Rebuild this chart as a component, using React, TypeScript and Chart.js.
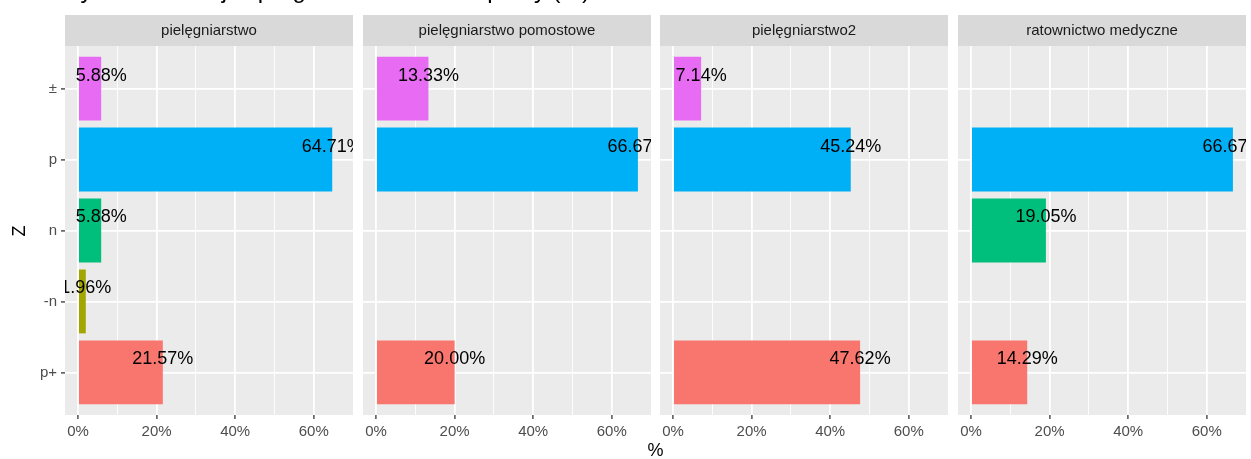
import React, { useEffect, useRef } from "react";
import { Chart, registerables } from "chart.js";

Chart.register(...registerables);

// ---- data ----
const title = "Wykres korelacji z programem studiów i pracy (%)";
const xAxisTitle = "%";
const yAxisTitle = "Z";
// category index = position on the y axis (0 = bottom)
const categories = ["p+", "-n", "n", "p", "±"];
const categoryColors = ["#F8766D", "#A3A500", "#00BF7D", "#00B0F6", "#E76BF3"];
const panelNames = [
  "pielęgniarstwo",
  "pielęgniarstwo pomostowe",
  "pielęgniarstwo2",
  "ratownictwo medyczne",
];
const valuesPielegniarstwo = [21.57, 1.96, 5.88, 64.71, 5.88];
const valuesPomostowe = [20.0, null, null, 66.67, 13.33];
const valuesPielegniarstwo2 = [47.62, null, null, 45.24, 7.14];
const valuesRatownictwo = [14.29, null, 19.05, 66.67, null];
const panelValues = [valuesPielegniarstwo, valuesPomostowe, valuesPielegniarstwo2, valuesRatownictwo];
const xTickValues = [0, 10, 20, 30, 40, 50, 60];
const xMin = -3.333;
const xMax = 70;

// ---- layout ----
const W = 1251;
const H = 459;
const FONT = "'Liberation Sans', Arial, Helvetica, sans-serif";
const PANEL_LEFTS = [65, 363, 660, 958];
const PANEL_W = 288;
const PANEL_TOP = 46;
const PANEL_BOTTOM = 415;
const STRIP_TOP = 15;
const SIDE_PAD = 5;

Chart.defaults.font.family = FONT;

function makePlugin(name: string) {
  return {
    id: "ggpanel",
    beforeDraw(chart: any) {
      const { ctx, chartArea } = chart;
      ctx.save();
      ctx.fillStyle = "#EBEBEB";
      ctx.fillRect(chartArea.left, chartArea.top, chartArea.right - chartArea.left, chartArea.bottom - chartArea.top);
      ctx.fillStyle = "#D9D9D9";
      ctx.fillRect(chartArea.left, STRIP_TOP, chartArea.right - chartArea.left, PANEL_TOP - STRIP_TOP);
      ctx.fillStyle = "#1A1A1A";
      ctx.font = `15px ${FONT}`;
      ctx.textAlign = "center";
      ctx.textBaseline = "middle";
      ctx.fillText(name, (chartArea.left + chartArea.right) / 2, (STRIP_TOP + PANEL_TOP) / 2 + 0.5);
      ctx.restore();
    },
    afterDatasetsDraw(chart: any) {
      const { ctx, chartArea, scales } = chart;
      const meta = chart.getDatasetMeta(0);
      const data = chart.data.datasets[0].data as any[];
      ctx.save();
      ctx.beginPath();
      ctx.rect(chartArea.left, chartArea.top, chartArea.right - chartArea.left, chartArea.bottom - chartArea.top);
      ctx.clip();
      ctx.fillStyle = "#000000";
      ctx.font = `18px ${FONT}`;
      ctx.textAlign = "center";
      ctx.textBaseline = "middle";
      meta.data.forEach((_el: any, i: number) => {
        const d = data[i];
        const x = scales.x.getPixelForValue(d.x);
        const y = scales.y.getPixelForValue(d.y) - 13;
        ctx.fillText(d.x.toFixed(2) + "%", x, y);
      });
      ctx.restore();
    },
  };
}

function Panel({ index }: { index: number }) {
  const ref = useRef<HTMLCanvasElement>(null);
  const first = index === 0;
  const canvasLeft = first ? 0 : PANEL_LEFTS[index] - SIDE_PAD;
  const canvasWidth = first ? PANEL_LEFTS[0] + PANEL_W + SIDE_PAD : PANEL_W + 2 * SIDE_PAD;

  useEffect(() => {
    const values = panelValues[index];
    const points = values
      .map((v, i) => (v == null ? null : { x: v, y: i }))
      .filter((p) => p !== null) as { x: number; y: number }[];
    const chart = new Chart(ref.current as HTMLCanvasElement, {
      type: "bar",
      data: {
        datasets: [
          {
            data: points as any,
            backgroundColor: (ctx: any) => categoryColors[ctx.raw ? ctx.raw.y : 0],
            borderWidth: 0,
            categoryPercentage: 0.9,
            barPercentage: 1,
          },
        ],
      },
      options: {
        indexAxis: "y",
        animation: false,
        responsive: false,
        devicePixelRatio: 1,
        layout: {
          padding: {
            top: PANEL_TOP,
            bottom: 0,
            left: first ? 0 : SIDE_PAD,
            right: SIDE_PAD,
          },
        },
        plugins: {
          legend: { display: false },
          tooltip: { enabled: false },
          title: { display: false },
        },
        scales: {
          x: {
            type: "linear",
            min: xMin,
            max: xMax,
            bounds: "data",
            offset: false,
            afterBuildTicks: (axis: any) => {
              axis.ticks = xTickValues.map((v) => ({ value: v }));
            },
            afterFit: (axis: any) => {
              axis.height = H - PANEL_BOTTOM;
            },
            border: { display: false },
            grid: {
              offset: false,
              color: "#FFFFFF",
              lineWidth: (ctx: any) => (ctx.tick && ctx.tick.value % 20 === 0 ? 1.8 : 0.9),
              drawTicks: true,
              tickLength: 4,
              tickWidth: 1.4,
              tickColor: (ctx: any) => (ctx.tick && ctx.tick.value % 20 === 0 ? "#444444" : "rgba(0,0,0,0)"),
            },
            ticks: {
              autoSkip: false,
              maxRotation: 0,
              padding: 4,
              color: "#4D4D4D",
              font: { size: 15, family: FONT },
              callback: (v: any) => (Number(v) % 20 === 0 ? `${v}%` : ""),
            },
          },
          y: {
            type: "linear",
            min: -0.6,
            max: 4.6,
            bounds: "data",
            offset: false,
            afterBuildTicks: (axis: any) => {
              axis.ticks = categories.map((_c, i) => ({ value: i }));
            },
            afterFit: (axis: any) => {
              axis.width = first ? PANEL_LEFTS[0] : 0;
            },
            border: { display: false },
            grid: {
              offset: false,
              color: "#FFFFFF",
              lineWidth: 1.8,
              drawTicks: first,
              tickLength: 4,
              tickWidth: 1.4,
              tickColor: "#444444",
            },
            ticks: {
              display: first,
              autoSkip: false,
              padding: 4,
              color: "#4D4D4D",
              font: { size: 15, family: FONT },
              callback: (v: any) => categories[Number(v)] ?? "",
            },
          },
        },
      },
      plugins: [makePlugin(panelNames[index])],
    } as any);
    return () => chart.destroy();
  }, [index]);

  return (
    <canvas
      ref={ref}
      width={canvasWidth}
      height={H}
      style={{ position: "absolute", left: canvasLeft, top: 0, width: canvasWidth, height: H, display: "block" }}
    />
  );
}

export default function App() {
  const plotCenter = (PANEL_LEFTS[0] + PANEL_LEFTS[3] + PANEL_W) / 2;
  return (
    <div
      style={{
        position: "fixed",
        left: 0,
        top: 0,
        width: W,
        height: H,
        background: "#FFFFFF",
        overflow: "hidden",
        fontFamily: FONT,
      }}
    >
      {panelNames.map((_n, i) => (
        <Panel key={i} index={i} />
      ))}
      <div
        style={{
          position: "absolute",
          left: 58,
          top: -22,
          fontSize: 24,
          lineHeight: "24px",
          whiteSpace: "nowrap",
          color: "#000000",
        }}
      >
        {title}
      </div>
      <div
        style={{
          position: "absolute",
          left: plotCenter - 20,
          top: 441,
          width: 40,
          textAlign: "center",
          fontSize: 18,
          lineHeight: "18px",
          color: "#000000",
        }}
      >
        {xAxisTitle}
      </div>
      <div
        style={{
          position: "absolute",
          left: 19 - 20,
          top: (PANEL_TOP + PANEL_BOTTOM) / 2 - 9,
          width: 40,
          height: 18,
          textAlign: "center",
          fontSize: 18,
          lineHeight: "18px",
          color: "#000000",
          transform: "rotate(-90deg)",
        }}
      >
        {yAxisTitle}
      </div>
    </div>
  );
}
